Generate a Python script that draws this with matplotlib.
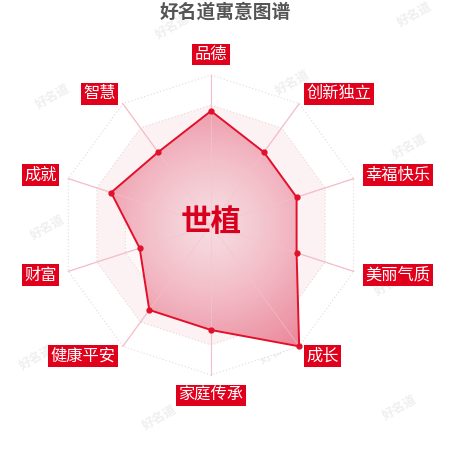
import numpy as np
import matplotlib
matplotlib.use('Agg')
import matplotlib.pyplot as plt
from matplotlib.patches import Polygon

plt.rcParams['font.family'] = ['Noto Sans CJK SC', 'DejaVu Sans']

# chart data (clockwise from top), max = 100
categories = ['品德', '创新独立', '幸福快乐', '美丽气质', '成长',
              '家庭传承', '健康平安', '财富', '成就', '智慧']
values = [76, 60, 60, 60, 100, 70, 70, 50, 70, 60]
max_value = 100
title = '好名道寓意图谱'
name = '世植'
watermark = '好名道'
wm_spots = [(173, 27), (415, 15), (53, 97), (293, 83), (410, 147), (48, 228),
            (392, 284), (37, 358), (277, 352), (160, 418), (400, 408)]

# layout in pixel units (y grows downwards)
cx, cy, R = 211, 225, 150
red = '#e0001b'

fig = plt.figure(figsize=(4.5, 4.5), dpi=100)
ax = fig.add_axes([0, 0, 1, 1])
ax.set_xlim(0, 450)
ax.set_ylim(450, 0)
ax.axis('off')

n = len(categories)
theta = np.arange(n) * 2 * np.pi / n
sx, sy = np.sin(theta), -np.cos(theta)

# watermarks
for wx, wy in wm_spots:
    ax.text(wx, wy, watermark, fontsize=9, color='#efefef', rotation=30,
            ha='center', va='center', fontweight='bold', zorder=0)

# split area bands + dotted rings
levels = [0.2, 0.4, 0.6, 0.8, 1.0]
band_colors = ['#fdf5f7', '#fdf4f6', '#fef8f9', '#fcf1f3', '#ffffff']
for lv, bc in reversed(list(zip(levels, band_colors))):
    pts = np.column_stack([cx + R * lv * sx, cy + R * lv * sy])
    ax.add_patch(Polygon(pts, closed=True, fc=bc, ec='#e6d8db', lw=0.8,
                         ls=(0, (1, 2)), zorder=1))

# spokes
for i in range(n):
    ax.plot([cx, cx + R * sx[i]], [cy, cy + R * sy[i]], color='#f2b3c0',
            lw=0.8, zorder=2)

# data polygon with radial gradient
r = np.array(values) / max_value * R
px = cx + r * sx
py = cy + r * sy
poly = Polygon(np.column_stack([px, py]), closed=True, fc='none', ec='none')
ax.add_patch(poly)
g = np.linspace(-1, 1, 300)
gx, gy = np.meshgrid(g, g)
dist = np.clip(np.hypot(gx, gy), 0, 1)[..., None]
inner = np.array([247, 218, 224]) / 255
outer = np.array([233, 122, 143]) / 255
img = inner + (outer - inner) * dist ** 1.3
im = ax.imshow(img, extent=(cx - R, cx + R, cy + R, cy - R), zorder=3,
               interpolation='bilinear', alpha=0.92)
im.set_clip_path(poly)

# spokes faintly over the fill
for i in range(n):
    ax.plot([cx, cx + R * sx[i]], [cy, cy + R * sy[i]], color='#f7c9d2',
            lw=0.7, alpha=0.6, zorder=4)

ax.plot(np.append(px, px[0]), np.append(py, py[0]), color='#e2102b',
        lw=1.4, zorder=5)
ax.plot(px, py, 'o', color='#e2102b', ms=3.5, zorder=6)

# axis name labels
for i, cat in enumerate(categories):
    lx = cx + (R + 12) * sx[i]
    ly = cy + (R + 12) * sy[i]
    if sx[i] > 0.01:
        ha, va = 'left', 'center'
    elif sx[i] < -0.01:
        ha, va = 'right', 'center'
    else:
        ha = 'center'
        va = 'bottom' if sy[i] < 0 else 'top'
    ax.text(lx, ly, cat, fontsize=11.7, color='white', ha=ha, va=va, zorder=7,
            bbox=dict(boxstyle='square,pad=0.15', fc=red, ec='none'))

ax.text(cx, cy - 3, name, fontsize=22, fontweight='bold', color='#d8001c',
        ha='center', va='center', zorder=8)
ax.text(225, 12, title, fontsize=13.5, fontweight='bold', color='#555555',
        ha='center', va='center', zorder=8)

fig.savefig('out.png', dpi=100)
